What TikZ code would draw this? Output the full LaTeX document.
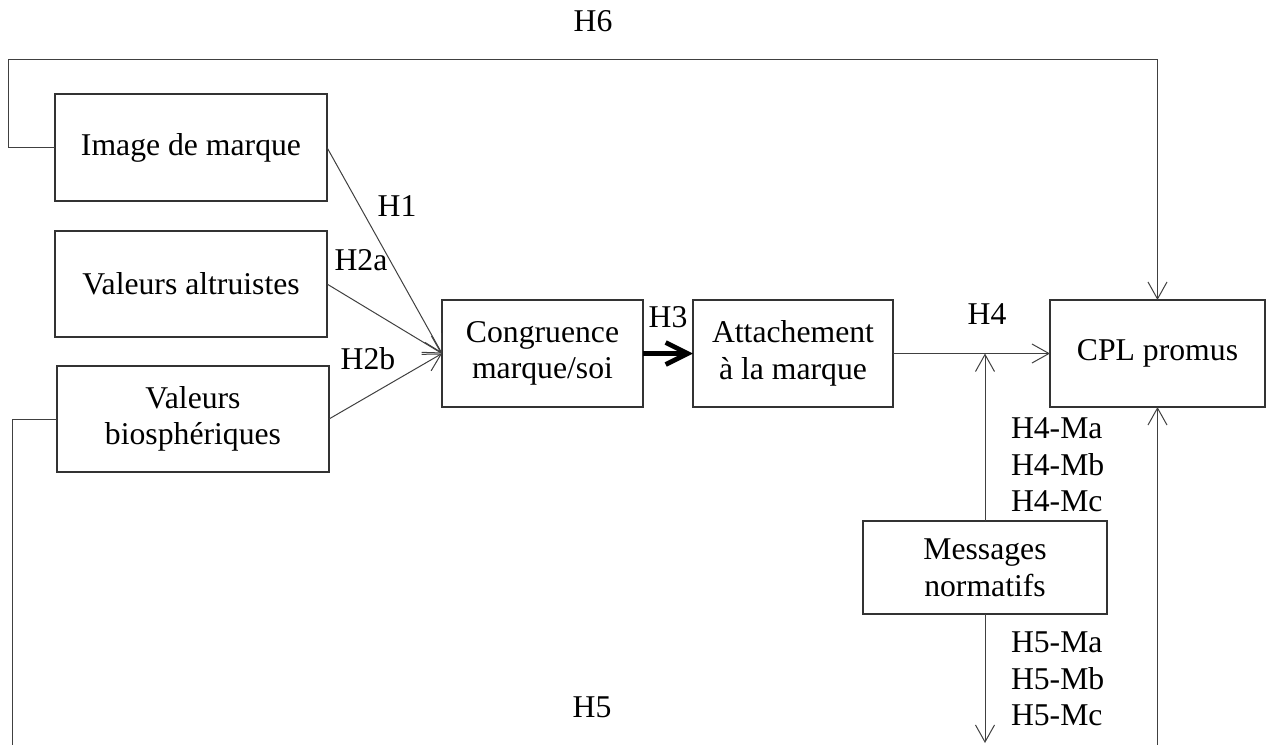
\documentclass[tikz,border=0pt]{standalone}
\usepackage{fontspec}
\setmainfont{Liberation Serif}
\usetikzlibrary{arrows.meta}
\begin{document}
\begin{tikzpicture}[x=0.5pt,y=-0.5pt,inner sep=0pt,outer sep=0pt,line width=0.5pt,
font=\fontsize{15.85pt}{18.3pt}\selectfont,
varblock/.style={draw=black!80,rectangle,align=center,line width=0.65pt},
link/.style={draw=black!75,-{Straight Barb[length=8.5pt,width=9.5pt]}}]
\useasboundingbox (0,0) rectangle (1266,745);
\draw (191,147.5) node[varblock,minimum width=136pt,minimum height=53.5pt] (img) {Image de marque};
\draw (191,284) node[varblock,minimum width=136pt,minimum height=53pt] (alt) {Valeurs altruistes};
\draw (193,419) node[varblock,minimum width=136pt,minimum height=53pt] (bio) {Valeurs\\biosphériques};
\draw (542.5,353.5) node[varblock,minimum width=100.5pt,minimum height=53.5pt] (cong) {Congruence\\marque/soi};
\draw (793,353.5) node[varblock,minimum width=100pt,minimum height=53.5pt] (att) {Attachement\\à la marque};
\draw (1157.5,353.5) node[varblock,minimum width=107.5pt,minimum height=53.5pt] (cpl) {CPL promus};
\draw (985,567.5) node[varblock,minimum width=122pt,minimum height=46.5pt] (msg) {Messages\\normatifs};
\coordinate (h6corner) at (8,59);
\coordinate (h5end) at (12,745);
% effets directs
\draw[link] (img.east) -- (cong.west);
\draw[link] (alt.east) -- (cong.west);
\draw[link] (bio.east) -- (cong.west);
\draw[-{Straight Barb[length=11pt,width=11pt]},line width=2.4pt] (cong.east) -- (att.west);
\draw[link] (att.east) -- (cpl.west);
% moderation
\draw[link] (msg.north) -- (msg.north |- att.east);
\draw[link] (msg.south) -- ++(0,129);
% H6 et H5
\draw[link] (img.west) -| (h6corner) -| (cpl.north);
\draw[draw=black!75] (bio.west) -| (h5end);
\draw[link] (cpl.south |- h5end) -- (cpl.south);
% labels
\draw (397,206) node {H1};
\draw (361,260) node {H2a};
\draw (368,359) node {H2b};
\draw (668,317) node {H3};
\draw (987,314) node {H4};
\draw (593,21) node {H6};
\draw (592,707) node {H5};
\draw (1011,418) node[anchor=north west,align=left,font=\fontsize{15.85pt}{18.25pt}\selectfont] (h4m) {H4-Ma\\H4-Mb\\H4-Mc};
\draw (1011,632) node[anchor=north west,align=left,font=\fontsize{15.85pt}{18.25pt}\selectfont] (h5m) {H5-Ma\\H5-Mb\\H5-Mc};
\end{tikzpicture}
\end{document}
